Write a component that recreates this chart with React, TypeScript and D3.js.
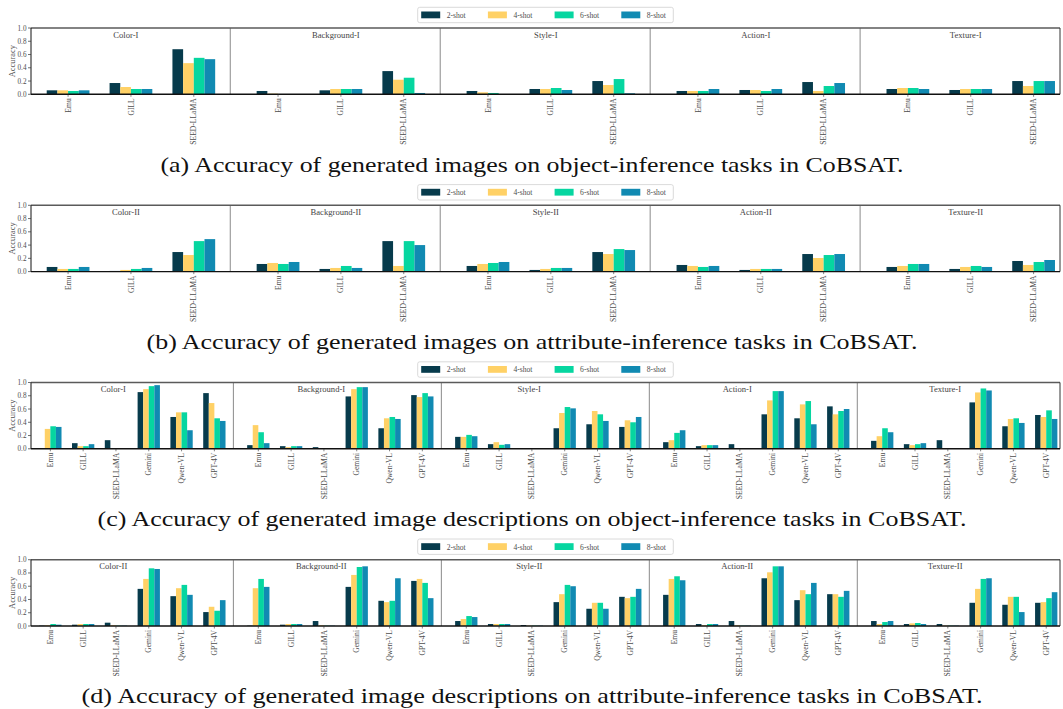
import * as d3 from "d3";

// shot settings / colours
const shots = ["2-shot", "4-shot", "6-shot", "8-shot"];
const shotColors = ["#073b4c", "#ffd166", "#06d6a0", "#118ab2"];

const genModels = ["Emu", "GILL", "SEED-LLaMA"];
const descModels = ["Emu", "GILL", "SEED-LLaMA", "Gemini", "Qwen-VL", "GPT-4V"];
const objectTasks = ["Color-I", "Background-I", "Style-I", "Action-I", "Texture-I"];
const attributeTasks = ["Color-II", "Background-II", "Style-II", "Action-II", "Texture-II"];
const yTicks = [0, 0.2, 0.4, 0.6, 0.8, 1.0];

// (a) generated images, object inference: [task][model][shot]
const genObjectAcc = [
  [[0.06, 0.06, 0.05, 0.06], [0.17, 0.11, 0.08, 0.08], [0.68, 0.47, 0.55, 0.53]],
  [[0.05, 0.01, 0.0, 0.0], [0.06, 0.08, 0.08, 0.08], [0.35, 0.22, 0.25, 0.02]],
  [[0.05, 0.03, 0.02, 0.0], [0.08, 0.08, 0.095, 0.065], [0.2, 0.14, 0.23, 0.015]],
  [[0.05, 0.05, 0.05, 0.08], [0.065, 0.065, 0.05, 0.08], [0.185, 0.05, 0.125, 0.17]],
  [[0.08, 0.095, 0.095, 0.08], [0.065, 0.08, 0.08, 0.08], [0.2, 0.125, 0.2, 0.2]],
];

// (b) generated images, attribute inference
const genAttributeAcc = [
  [[0.07, 0.04, 0.04, 0.07], [0.01, 0.025, 0.04, 0.055], [0.295, 0.25, 0.46, 0.49]],
  [[0.115, 0.13, 0.115, 0.145], [0.04, 0.055, 0.085, 0.055], [0.46, 0.085, 0.46, 0.4]],
  [[0.085, 0.115, 0.13, 0.145], [0.025, 0.04, 0.055, 0.055], [0.295, 0.265, 0.34, 0.325]],
  [[0.1, 0.085, 0.07, 0.085], [0.025, 0.04, 0.04, 0.04], [0.265, 0.205, 0.25, 0.265]],
  [[0.07, 0.085, 0.115, 0.115], [0.04, 0.07, 0.085, 0.07], [0.16, 0.1, 0.145, 0.175]],
];

// (c) generated descriptions, object inference
const descObjectAcc = [
  [[0.01, 0.3, 0.34, 0.33], [0.085, 0.04, 0.04, 0.07], [0.13, 0.005, 0.005, 0.005],
   [0.855, 0.9, 0.945, 0.96], [0.48, 0.55, 0.55, 0.28], [0.84, 0.69, 0.46, 0.42]],
  [[0.055, 0.357, 0.25, 0.085], [0.04, 0.025, 0.04, 0.04], [0.025, 0.005, 0.005, 0.005],
   [0.79, 0.9, 0.93, 0.93], [0.31, 0.46, 0.48, 0.45], [0.81, 0.78, 0.84, 0.79]],
  [[0.18, 0.18, 0.21, 0.19], [0.07, 0.1, 0.06, 0.07], [0.01, 0.005, 0.005, 0.005],
   [0.31, 0.54, 0.63, 0.61], [0.37, 0.57, 0.52, 0.42], [0.33, 0.43, 0.4, 0.48]],
  [[0.1, 0.13, 0.24, 0.28], [0.04, 0.055, 0.055, 0.055], [0.07, 0.005, 0.005, 0.005],
   [0.52, 0.73, 0.87, 0.87], [0.46, 0.67, 0.72, 0.37], [0.64, 0.52, 0.57, 0.6]],
  [[0.12, 0.19, 0.31, 0.25], [0.07, 0.055, 0.07, 0.085], [0.13, 0.005, 0.005, 0.005],
   [0.7, 0.85, 0.91, 0.88], [0.34, 0.45, 0.46, 0.39], [0.51, 0.48, 0.58, 0.45]],
];

// (d) generated descriptions, attribute inference
const descAttributeAcc = [
  [[0.005, 0.01, 0.03, 0.02], [0.02, 0.03, 0.03, 0.03], [0.05, 0.01, 0.005, 0.005],
   [0.56, 0.71, 0.87, 0.86], [0.45, 0.57, 0.62, 0.47], [0.21, 0.29, 0.23, 0.39]],
  [[0.005, 0.57, 0.71, 0.59], [0.02, 0.03, 0.03, 0.03], [0.075, 0.01, 0.005, 0.005],
   [0.59, 0.77, 0.89, 0.9], [0.38, 0.36, 0.38, 0.72], [0.68, 0.71, 0.65, 0.42]],
  [[0.075, 0.105, 0.15, 0.135], [0.03, 0.03, 0.03, 0.03], [0.015, 0.005, 0.005, 0.005],
   [0.36, 0.48, 0.62, 0.6], [0.26, 0.35, 0.35, 0.26], [0.44, 0.42, 0.44, 0.56]],
  [[0.47, 0.71, 0.75, 0.69], [0.03, 0.01, 0.03, 0.03], [0.075, 0.01, 0.005, 0.005],
   [0.72, 0.81, 0.9, 0.9], [0.39, 0.54, 0.48, 0.65], [0.48, 0.48, 0.44, 0.53]],
  [[0.075, 0.03, 0.06, 0.075], [0.03, 0.04, 0.045, 0.03], [0.03, 0.005, 0.005, 0.005],
   [0.35, 0.56, 0.71, 0.72], [0.32, 0.44, 0.44, 0.21], [0.35, 0.36, 0.42, 0.51]],
];

const captions = [
  "(a) Accuracy of generated images on object-inference tasks in CoBSAT.",
  "(b) Accuracy of generated images on attribute-inference tasks in CoBSAT.",
  "(c) Accuracy of generated image descriptions on object-inference tasks in CoBSAT.",
  "(d) Accuracy of generated image descriptions on attribute-inference tasks in CoBSAT.",
];

const W = 1063;
const H = 709;
const plotLeft = 31;
const plotRight = 1060;
const plotH = 66.3;
const serif = "'Liberation Serif', 'DejaVu Serif', serif";
const grey = "#4d4d4d";

type Spec = {
  tasks: string[];
  models: string[];
  values: number[][][];
  caption: string;
  top: number;
  captionY: number;
  captionW: number;
  titleU: number; // title position, in model steps from the group's first model
};

const panels: Spec[] = [
  { tasks: objectTasks, models: genModels, values: genObjectAcc, caption: captions[0], top: 28, captionY: 172, captionW: 743, titleU: 0.92 },
  { tasks: attributeTasks, models: genModels, values: genAttributeAcc, caption: captions[1], top: 205.3, captionY: 348.5, captionW: 771, titleU: 0.92 },
  { tasks: objectTasks, models: descModels, values: descObjectAcc, caption: captions[2], top: 382.5, captionY: 525.5, captionW: 869, titleU: 1.92 },
  { tasks: attributeTasks, models: descModels, values: descAttributeAcc, caption: captions[3], top: 559.7, captionY: 703, captionW: 901, titleU: 1.92 },
];

function Panel({ spec }: { spec: Spec }) {
  const n = spec.models.length;
  const stride = n + 0.34;
  const barU = 0.17;
  const x = d3.scaleLinear()
    .domain([-0.59, 4 * stride + n - 1 + 0.42])
    .range([plotLeft, plotRight]);
  const bottom = spec.top + plotH;
  const y = d3.scaleLinear().domain([0, 1]).range([bottom, spec.top]);
  const bw = x(barU) - x(0);
  const fmt = d3.format(".1f");

  const legendX = 417.7;
  const legendY = spec.top - 20.7;

  return (
    <g>
      {/* legend */}
      <rect x={legendX} y={legendY} width={255.6} height={15.4} rx={2} fill="#fff" stroke="#d0d0d0" strokeWidth={0.8} />
      {shots.map((s, k) => (
        <g key={s} transform={`translate(${legendX + 3.5 + k * 66.7},${legendY + 4.2})`}>
          <rect width={19} height={6.8} fill={shotColors[k]} />
          <text x={25.5} y={6.4} fontSize={7.6} fontFamily={serif} fill={grey}>{s}</text>
        </g>
      ))}

      {/* bars */}
      {spec.values.map((task, g) =>
        task.map((vals, i) =>
          vals.map((v, k) => {
            const u = g * stride + i + (k - 1.5) * barU;
            return (
              <rect key={`${g}-${i}-${k}`} x={x(u - barU / 2)} y={y(v)} width={bw}
                height={y(0) - y(v)} fill={shotColors[k]} />
            );
          })
        )
      )}

      {/* group dividers and titles */}
      {spec.tasks.map((t, g) => (
        <g key={t}>
          {g > 0 && (
            <line x1={x(g * stride - 0.76)} x2={x(g * stride - 0.76)} y1={spec.top} y2={bottom}
              stroke="#8a8a8a" strokeWidth={1} />
          )}
          <text x={x(g * stride + spec.titleU)} y={spec.top + 9.6} fontSize={8.6} fontFamily={serif}
            fill="#444" textAnchor="middle">{t}</text>
        </g>
      ))}

      {/* spines */}
      <line x1={plotLeft} x2={plotRight} y1={spec.top} y2={spec.top} stroke="#5a5a5a" strokeWidth={1.4} />
      <line x1={plotRight} x2={plotRight} y1={spec.top} y2={bottom} stroke="#333" strokeWidth={1} />
      <line x1={plotLeft} x2={plotLeft} y1={spec.top} y2={bottom} stroke="#111" strokeWidth={1} />
      <line x1={plotLeft} x2={plotRight} y1={bottom} y2={bottom} stroke="#111" strokeWidth={1.4} />

      {/* y axis */}
      {yTicks.map((t) => (
        <g key={t}>
          <line x1={plotLeft - 3} x2={plotLeft} y1={y(t)} y2={y(t)} stroke="#333" strokeWidth={0.7} />
          <text x={plotLeft - 4.5} y={y(t) + 2.5} fontSize={7.2} fontFamily={serif} fill={grey}
            textAnchor="end">{fmt(t)}</text>
        </g>
      ))}
      <text transform={`translate(14.5,${(spec.top + bottom) / 2}) rotate(-90)`} fontSize={8.4}
        fontFamily={serif} fill={grey} textAnchor="middle">Accuracy</text>

      {/* x tick labels */}
      {spec.tasks.map((t, g) =>
        spec.models.map((m, i) => {
          const cx = x(g * stride + i);
          return (
            <g key={`${t}-${m}`}>
              <line x1={cx} x2={cx} y1={bottom} y2={bottom + 2.5} stroke="#333" strokeWidth={0.6} />
              <text transform={`translate(${cx + 2.6},${bottom + 4}) rotate(-90)`} fontSize={7.6}
                fontFamily={serif} fill={grey} textAnchor="end">{m}</text>
            </g>
          );
        })
      )}

      {/* caption */}
      <text x={532} y={spec.captionY} fontSize={22} fontFamily={serif} fill="#111" textAnchor="middle"
        textLength={spec.captionW} lengthAdjust="spacingAndGlyphs">{spec.caption}</text>
    </g>
  );
}

export default function App() {
  return (
    <svg width={W} height={H} viewBox={`0 0 ${W} ${H}`}
      style={{ position: "absolute", left: 0, top: 0, background: "#fff" }}>
      {panels.map((p) => (
        <Panel key={p.caption} spec={p} />
      ))}
    </svg>
  );
}
